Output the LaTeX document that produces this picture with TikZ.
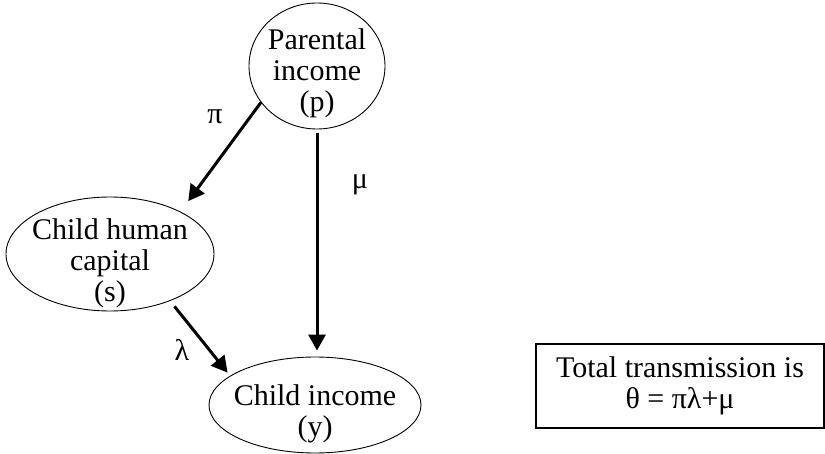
\documentclass[tikz,border=0pt]{standalone}
\usepackage{fontspec}
\setmainfont{Liberation Serif}
\usetikzlibrary{shapes.geometric,arrows.meta}
\begin{document}
\begin{tikzpicture}[x=1pt,y=-1pt,
  txt/.style={font=\fontsize{30}{31}\selectfont},
  ell/.style={draw, ellipse, inner sep=0pt, line width=0.9pt},
  inner/.style={txt, align=center, inner sep=0pt},
  arr/.style={line width=3pt, -{Triangle[length=16pt,width=17pt]}},
  lbl/.style={txt, inner sep=0pt}]
\useasboundingbox (0,0) rectangle (825,454);
\node[ell, minimum width=136pt, minimum height=126pt] (p) at (317,66) {};
\node[ell, minimum width=208pt, minimum height=114pt] (s) at (110,254) {};
\node[ell, minimum width=212pt, minimum height=96pt] (y) at (315,405) {};
\node[inner] (pt) at (317,73) {Parental\\income\\(p)};
\node[inner] (st) at (110,263) {Child human\\capital\\(s)};
\node[inner] (yt) at (315,414) {Child income\\(y)};
\node[draw, line width=1.2pt, minimum width=288pt, minimum height=84pt, align=center, txt] (t) at (680,386) {Total transmission is\\θ = πλ+μ};
\draw[arr, shorten >=13pt] (p.213) -- (s.31);
\draw[arr, shorten <=4pt, shorten >=6pt] (p.south) -- (p.south |- y.north);
\draw[arr, shorten <=7pt, shorten >=4pt] (s.322) -- (y.161);
\node[lbl] (pi) at (215,117) {π};
\node[lbl] (mu) at (360,185) {μ};
\node[lbl] (la) at (182,350) {λ};
\end{tikzpicture}
\end{document}
